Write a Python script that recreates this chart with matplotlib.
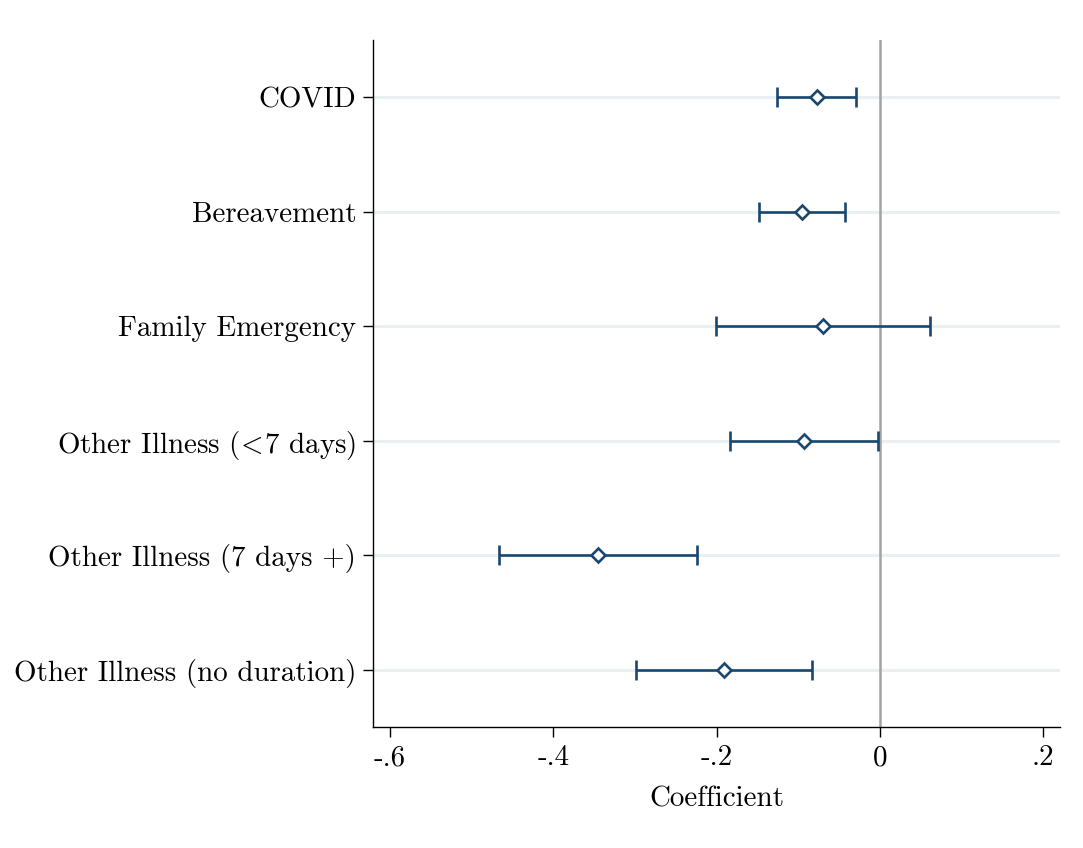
import matplotlib
matplotlib.use("Agg")
import matplotlib.pyplot as plt
import numpy as np

# Outcome categories (top to bottom) and their estimates with 95% CIs
categories = [
    "COVID",
    "Bereavement",
    "Family Emergency",
    r"Other Illness ($\!<\!$7 days)",
    "Other Illness (7 days +)",
    "Other Illness (no duration)",
]
coef = [-0.0772, -0.0956, -0.0695, -0.0932, -0.3454, -0.1909]
ci_low = [-0.1263, -0.1484, -0.2002, -0.1839, -0.4668, -0.2992]
ci_high = [-0.0286, -0.0421, 0.0613, -0.0021, -0.2235, -0.0830]

xticks = [-0.6, -0.4, -0.2, 0.0, 0.2]
xtick_labels = ["-.6", "-.4", "-.2", "0", ".2"]

plt.rcParams["font.family"] = ["cmr10"]
plt.rcParams["mathtext.fontset"] = "cm"
plt.rcParams["axes.formatter.use_mathtext"] = True

navy = "#1a476f"
grid_col = "#e8f0f2"
fs = 20.9

fig = plt.figure(figsize=(10.83, 8.48), dpi=100)
ax = fig.add_axes([373 / 1083, 1 - 727 / 848, (1060 - 373) / 1083, (727 - 40) / 848])

n = len(categories)
ypos = np.arange(n, 0, -1)  # first category on top

for y in ypos:
    ax.axhline(y, color=grid_col, lw=2.2, zorder=0)
ax.axvline(0, color="#a3a3a3", lw=1.8, zorder=1)

coef_a = np.array(coef)
err = np.vstack([coef_a - np.array(ci_low), np.array(ci_high) - coef_a])
ax.errorbar(coef_a, ypos, xerr=err, fmt="none", ecolor=navy, elinewidth=1.9,
            capsize=7, capthick=1.9, zorder=2)
ax.plot(coef_a, ypos, linestyle="none", marker="D", markersize=7,
        markerfacecolor="white", markeredgecolor=navy, markeredgewidth=1.9,
        zorder=3)

ax.set_xlim(-0.621, 0.221)
ax.set_ylim(0.5, n + 0.5)
ax.set_xticks(xticks)
ax.set_xticklabels(xtick_labels)
ax.set_yticks(ypos)
ax.set_yticklabels(categories)

for s in ["top", "right"]:
    ax.spines[s].set_visible(False)
for s in ["left", "bottom"]:
    ax.spines[s].set_linewidth(1.0)
    ax.spines[s].set_color("black")

ax.tick_params(axis="both", which="major", length=7, width=1.0, labelsize=fs,
               color="black")
ax.tick_params(axis="y", pad=5)
ax.tick_params(axis="x", pad=6)
ax.set_xlabel("Coefficient", fontsize=fs, labelpad=10.5)

fig.savefig("out.png", dpi=100, facecolor="white")
